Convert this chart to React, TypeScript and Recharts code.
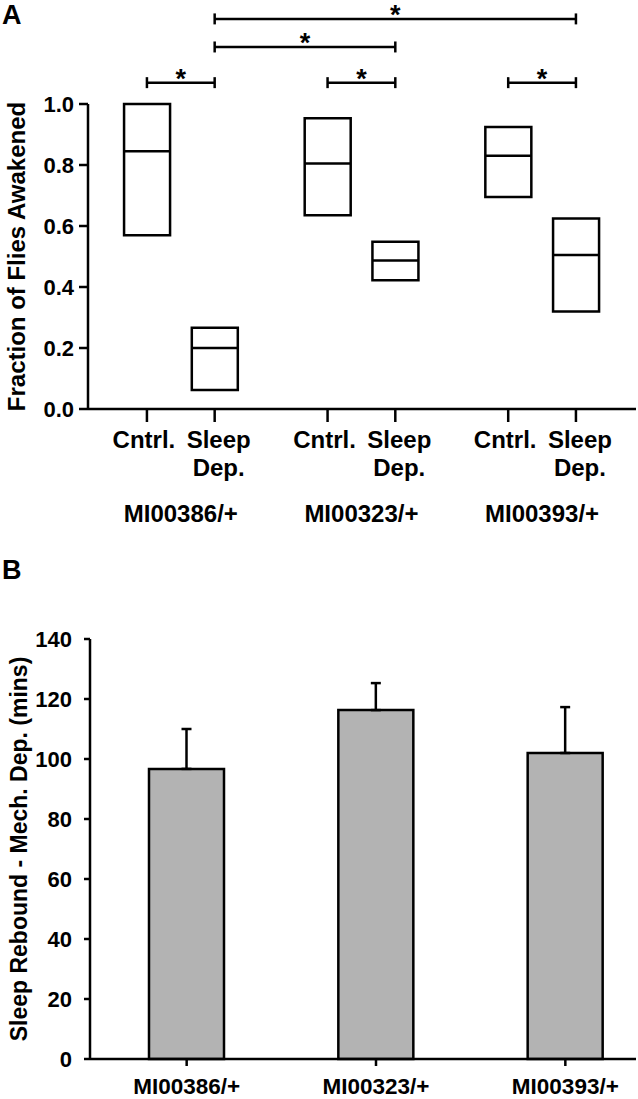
import React from "react";
import {
  ComposedChart,
  BarChart,
  Bar,
  Scatter,
  XAxis,
  YAxis,
  ReferenceLine,
  ReferenceDot,
  ErrorBar,
  Label,
} from "recharts";

const genotypes = ["MI00386/+", "MI00323/+", "MI00393/+"];
const conditions = ["Cntrl.", "Sleep Dep."];

// panel A: one box per genotype x condition (Cntrl., Sleep Dep., ...)
const boxMin = [0.57, 0.062, 0.635, 0.422, 0.695, 0.32];
const boxMedian = [0.845, 0.2, 0.805, 0.487, 0.83, 0.505];
const boxMax = [1.0, 0.266, 0.953, 0.548, 0.925, 0.625];
const fractionTicks = [0, 0.2, 0.4, 0.6, 0.8, 1.0];

// significant comparisons, by box index
const sigFrom = [0, 2, 4, 1, 1];
const sigTo = [1, 3, 5, 3, 5];
const sigTier = [0, 0, 0, 1, 2];

// panel B
const reboundMean = [96.7, 116.3, 102];
const reboundSem = [13.3, 9, 15.3];
const reboundTicks = [0, 20, 40, 60, 80, 100, 120, 140];

const FONT = "'Liberation Sans', Arial, sans-serif";
const SIG_LEVELS = [1.07, 1.187, 1.279];
const CAP = 0.018;

const slot = (i: number) => Math.floor(i / 2) * 8 + (i % 2) * 3;

const boxData = boxMin.map((lo, i) => ({
  pos: slot(i),
  range: [lo, boxMax[i]],
  median: boxMedian[i],
  condition: conditions[i % 2],
}));

const reboundData = genotypes.map((g, i) => ({
  genotype: g,
  mean: reboundMean[i],
  err: [0, reboundSem[i]],
}));

const textStyle = { fontFamily: FONT, fontWeight: 700, fill: "#000" };

const ConditionTick = (props: any) => {
  const { x, y, payload } = props;
  const label = payload.value % 8 === 0 ? conditions[0] : conditions[1];
  const lines = label.split(" ");
  const dx = lines.length > 1 ? 4 : -3;
  return (
    <text x={x + dx} y={y} textAnchor="middle" fontSize={24} {...textStyle}>
      {lines.map((l: string, k: number) => (
        <tspan key={k} x={x + dx} dy={k === 0 ? 24 : 28}>
          {l}
        </tspan>
      ))}
    </text>
  );
};

const GroupTick = (props: any) => {
  const { x, y, payload } = props;
  const g = genotypes[Math.round((payload.value - 1.5) / 8)];
  return (
    <text x={x} y={y + 33} textAnchor="middle" fontSize={24} {...textStyle}>
      {g}
    </text>
  );
};

const GenotypeTick = (props: any) => {
  const { x, y, payload } = props;
  return (
    <text x={x} y={y + 26} textAnchor="middle" fontSize={22.5} {...textStyle}>
      {payload.value}
    </text>
  );
};

const MedianShape = (props: any) => {
  const { cx, cy } = props;
  return <line x1={cx - 23} x2={cx + 23} y1={cy} y2={cy} stroke="#000" strokeWidth={2.5} />;
};

const StarShape = (props: any) => (
  <text x={props.cx} y={props.cy + 5} textAnchor="middle" fontSize={27} {...textStyle}>
    *
  </text>
);

const rotatedLabel = (text: string, size: number) => (props: any) => {
  const { x, y, height } = props.viewBox;
  const cy = y + height / 2;
  return (
    <text
      transform={`translate(${x - 3}, ${cy}) rotate(-90)`}
      textAnchor="middle"
      fontSize={size}
      {...textStyle}
    >
      {text}
    </text>
  );
};

export default function App() {
  const groupCenters = genotypes.map((_, g) => (slot(g * 2) + slot(g * 2 + 1)) / 2);
  return (
    <div
      style={{
        position: "absolute",
        left: 0,
        top: 0,
        width: 638,
        height: 1099,
        overflow: "hidden",
        background: "#fff",
        fontFamily: FONT,
      }}
    >
      <div style={{ position: "absolute", left: 2, top: 2, fontSize: 27, lineHeight: "27px", fontWeight: 700 }}>
        A
      </div>
      <div style={{ position: "absolute", left: 2, top: 557, fontSize: 27, lineHeight: "27px", fontWeight: 700 }}>
        B
      </div>

      <div style={{ position: "absolute", left: 0, top: 0 }}>
        <ComposedChart
          width={638}
          height={560}
          data={boxData}
          margin={{ top: 104, right: 2, bottom: 21, left: 28 }}
        >
          <XAxis
            dataKey="pos"
            type="number"
            domain={[-2.61, 21.66]}
            ticks={boxData.map((d) => d.pos)}
            height={80}
            tickSize={13}
            axisLine={{ stroke: "#000", strokeWidth: 2.5 }}
            tickLine={{ stroke: "#000", strokeWidth: 2.5 }}
            tick={<ConditionTick />}
            interval={0}
          />
          <XAxis
            xAxisId="group"
            dataKey="pos"
            type="number"
            domain={[-2.61, 21.66]}
            ticks={groupCenters}
            height={50}
            tickSize={0}
            tickMargin={0}
            axisLine={false}
            tickLine={false}
            tick={<GroupTick />}
            interval={0}
          />
          <YAxis
            type="number"
            domain={[0, 1]}
            ticks={fractionTicks}
            width={60}
            tickSize={9}
            tickMargin={5}
            tickFormatter={(v: number) => v.toFixed(1)}
            axisLine={{ stroke: "#000", strokeWidth: 2.5 }}
            tickLine={{ stroke: "#000", strokeWidth: 2.5 }}
            tick={{ ...textStyle, fontSize: 22 }}
          >
            <Label content={rotatedLabel("Fraction of Flies Awakened", 24)} />
          </YAxis>
          <Bar
            dataKey="range"
            barSize={46}
            fill="#fff"
            stroke="#000"
            strokeWidth={2.5}
            isAnimationActive={false}
          />
          <Scatter dataKey="median" shape={<MedianShape />} isAnimationActive={false} />
          {sigFrom.map((a, k) => {
            const x1 = slot(a);
            const x2 = slot(sigTo[k]);
            const lvl = SIG_LEVELS[sigTier[k]];
            return (
              <React.Fragment key={k}>
                <ReferenceLine
                  segment={[{ x: x1, y: lvl }, { x: x2, y: lvl }]}
                  stroke="#000"
                  strokeWidth={2.5}
                  ifOverflow="visible"
                />
                <ReferenceLine
                  segment={[{ x: x1, y: lvl - CAP }, { x: x1, y: lvl + CAP }]}
                  stroke="#000"
                  strokeWidth={2.5}
                  ifOverflow="visible"
                />
                <ReferenceLine
                  segment={[{ x: x2, y: lvl - CAP }, { x: x2, y: lvl + CAP }]}
                  stroke="#000"
                  strokeWidth={2.5}
                  ifOverflow="visible"
                />
                <ReferenceDot
                  x={(x1 + x2) / 2}
                  y={lvl}
                  r={1}
                  ifOverflow="visible"
                  shape={<StarShape />}
                />
              </React.Fragment>
            );
          })}
        </ComposedChart>
      </div>

      <div style={{ position: "absolute", left: 0, top: 560 }}>
        <BarChart
          width={638}
          height={539}
          data={reboundData}
          margin={{ top: 79, right: 2, bottom: 0, left: 30 }}
        >
          <XAxis
            dataKey="genotype"
            height={40}
            tickSize={7}
            padding={{ left: 2, right: -24 }}
            axisLine={{ stroke: "#000", strokeWidth: 2.5 }}
            tickLine={{ stroke: "#000", strokeWidth: 2.5 }}
            tick={<GenotypeTick />}
            interval={0}
          />
          <YAxis
            type="number"
            domain={[0, 140]}
            ticks={reboundTicks}
            width={60}
            tickSize={6}
            tickMargin={12}
            axisLine={{ stroke: "#000", strokeWidth: 2.5 }}
            tickLine={{ stroke: "#000", strokeWidth: 2.5 }}
            tick={{ ...textStyle, fontSize: 22 }}
          >
            <Label content={rotatedLabel("Sleep Rebound - Mech. Dep. (mins)", 23)} />
          </YAxis>
          <Bar
            dataKey="mean"
            barSize={75}
            fill="#b3b3b3"
            stroke="#000"
            strokeWidth={2.5}
            isAnimationActive={false}
          >
            <ErrorBar dataKey="err" width={5} stroke="#000" strokeWidth={2.5} direction="y" />
          </Bar>
        </BarChart>
      </div>
    </div>
  );
}
